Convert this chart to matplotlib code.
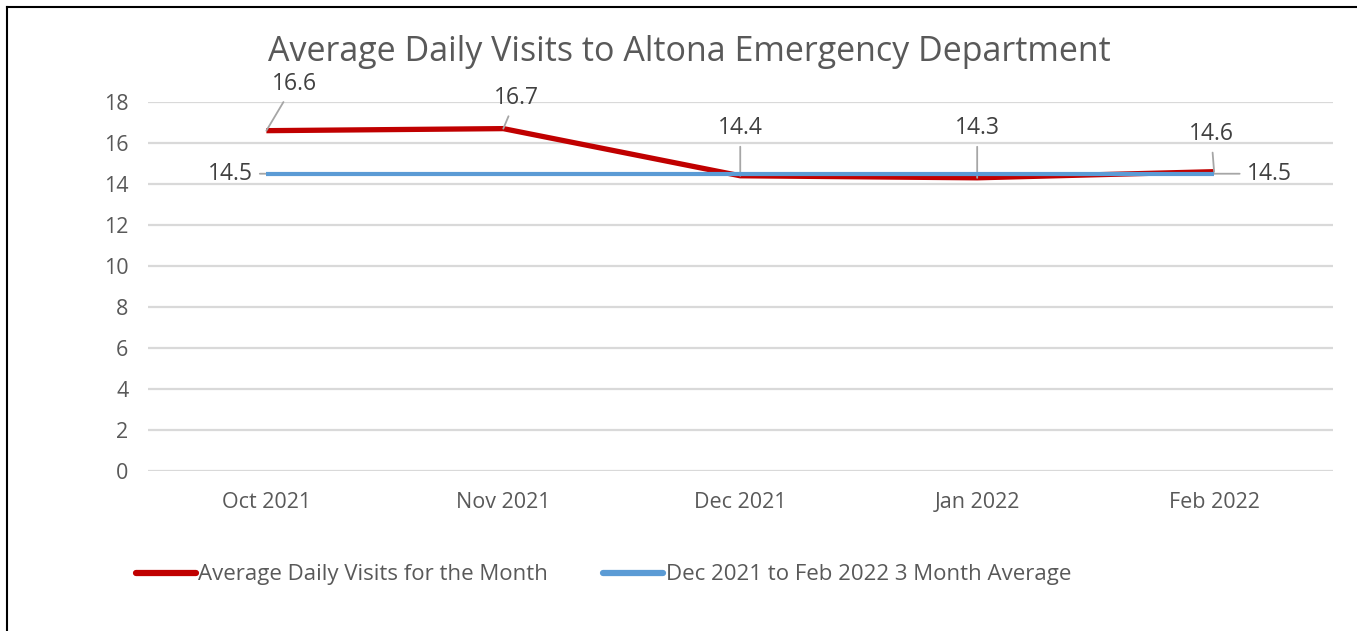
import matplotlib
matplotlib.use("Agg")
import matplotlib.pyplot as plt
from matplotlib.lines import Line2D

months = ["Oct 2021", "Nov 2021", "Dec 2021", "Jan 2022", "Feb 2022"]
monthly_avg = [16.6, 16.7, 14.4, 14.3, 14.6]
three_month_avg = [14.5, 14.5, 14.5, 14.5, 14.5]
monthly_label = "Average Daily Visits for the Month"
avg_label = "Dec 2021 to Feb 2022 3 Month Average"
title = "Average Daily Visits to Altona Emergency Department"

# label offsets in pixels, picked by eye from the reference
monthly_offsets = [(28, 47), (13, 31), (0, 48), (0, 50), (-3, 38)]
avg_offsets = {0: (-36, 0), 4: (55, 0)}

red = "#c00000"
blue = "#5b9bd5"
grey_text = "#595959"
leader = "#a6a6a6"

plt.rcParams["font.family"] = ["Open Sans", "DejaVu Sans"]

fig = plt.figure(figsize=(13.57, 6.31), dpi=100)
ax = fig.add_axes([0.109, 0.2536, 0.873, 0.5848])

x = list(range(len(months)))
ax.plot(x, monthly_avg, color=red, lw=3.8, solid_capstyle="butt", zorder=3)
ax.plot(x, three_month_avg, color=blue, lw=3.0, solid_capstyle="butt", zorder=4)

ax.set_xlim(-0.5, len(months) - 0.5)
ax.set_ylim(0, 18)
ax.set_yticks(range(0, 19, 2))
ax.set_xticks(x)
ax.set_xticklabels(months)
ax.grid(axis="y", color="#d9d9d9", lw=1.6)
ax.set_axisbelow(True)
for s in ax.spines.values():
    s.set_visible(False)
ax.tick_params(length=0, labelsize=15.5, colors=grey_text)
ax.tick_params(axis="y", pad=14)
ax.tick_params(axis="x", pad=15)

for i, v in enumerate(monthly_avg):
    ax.annotate(f"{v}", xy=(i, v), xytext=monthly_offsets[i], textcoords="offset pixels",
                ha="center", va="center", fontsize=16.5, color="#404040",
                arrowprops=dict(arrowstyle="-", color=leader, lw=1.3, shrinkA=3, shrinkB=0))
for i, (dx, dy) in avg_offsets.items():
    ax.annotate(f"{three_month_avg[i]}", xy=(i, three_month_avg[i]), xytext=(dx, dy),
                textcoords="offset pixels", ha="center", va="center", fontsize=16.5,
                color="#404040",
                arrowprops=dict(arrowstyle="-", color=leader, lw=1.3, shrinkA=3, shrinkB=0))

fig.text(0.508, 0.918, title, ha="center", va="center", fontsize=24.5, color=grey_text)

handles = [Line2D([], [], color=red, lw=4.5, solid_capstyle="round"),
           Line2D([], [], color=blue, lw=4.5, solid_capstyle="round")]
fig.legend(handles, [monthly_label, avg_label], loc="center", bbox_to_anchor=(0.4447, 0.089),
           ncol=2, frameon=False, fontsize=16, handlelength=2.7, handletextpad=0.1,
           columnspacing=2.5, labelcolor=grey_text)

# frame lines at top and left edge of the picture
fig.add_artist(Line2D([7 / 1357, 7 / 1357], [0, 1 - 7 / 631], transform=fig.transFigure,
                      color="black", lw=1.5))
fig.add_artist(Line2D([7 / 1357, 1], [1 - 7 / 631, 1 - 7 / 631], transform=fig.transFigure,
                      color="black", lw=1.5))

fig.savefig("out.png", dpi=100)
